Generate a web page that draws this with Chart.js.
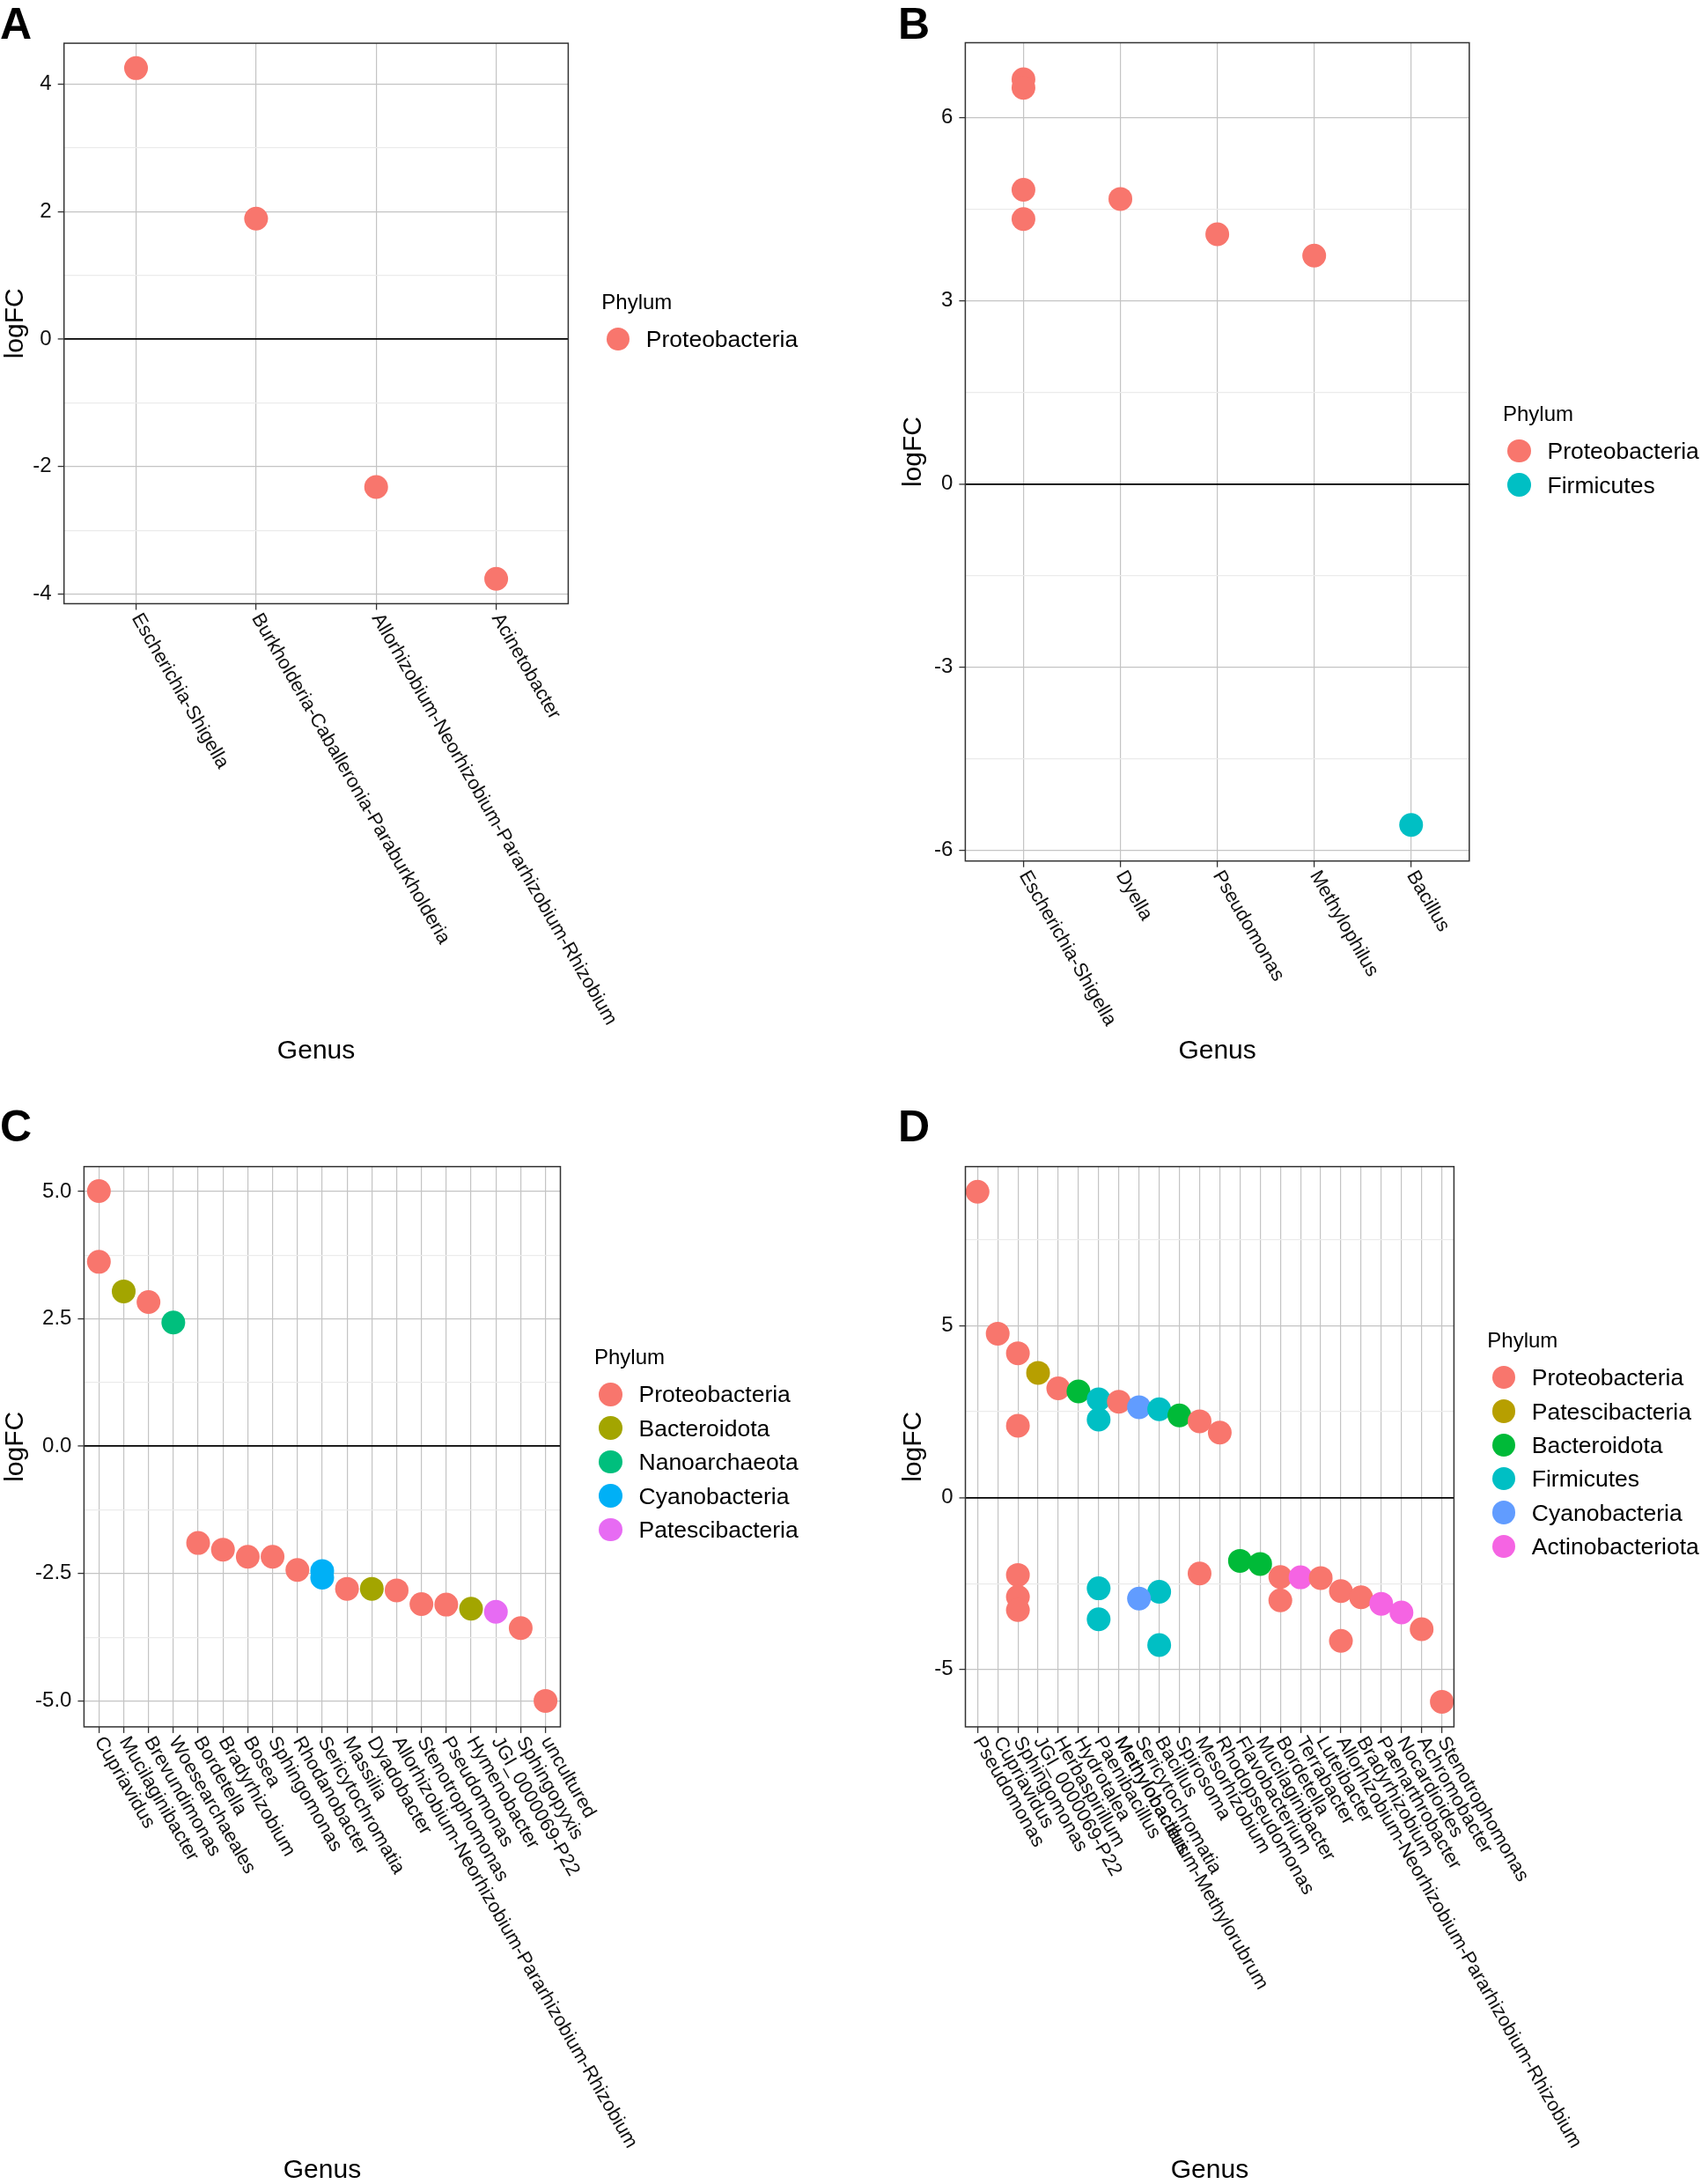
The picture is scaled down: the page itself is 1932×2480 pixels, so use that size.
<!DOCTYPE html>
<html>
<head>
<meta charset="utf-8">
<script src="https://cdn.jsdelivr.net/npm/chart.js@4.4.1/dist/chart.umd.min.js"></script>
<style>
  body { margin: 0; background: #fff; width: 1932px; height: 2480px; position: relative; overflow: hidden;
         font-family: "Liberation Sans", Arial, sans-serif; }
  canvas { position: absolute; }
  .tag { position: absolute; font-weight: bold; font-size: 50px; line-height: 1; color: #000; }
  .lg { position: absolute; line-height: 1; color: #000; white-space: nowrap; }
  .dot { position: absolute; width: 26.6px; height: 26.6px; border-radius: 50%; }
</style>
</head>
<body>
<div class="tag" style="left:0px;top:1.5px">A</div>
<div class="tag" style="left:1020px;top:1.5px">B</div>
<div class="tag" style="left:0px;top:1253.5px">C</div>
<div class="tag" style="left:1020px;top:1253.5px">D</div>

<canvas id="chartA" width="1000" height="1210" style="left:0px;top:0px"></canvas>
<canvas id="chartB" width="912" height="1210" style="left:1020px;top:0px"></canvas>
<canvas id="chartC" width="1000" height="1240" style="left:0px;top:1240px"></canvas>
<canvas id="chartD" width="912" height="1240" style="left:1020px;top:1240px"></canvas>

<script>
// ---- Panel A ----
const genusA = ['Escherichia-Shigella', 'Burkholderia-Caballeronia-Paraburkholderia',
  'Allorhizobium-Neorhizobium-Pararhizobium-Rhizobium', 'Acinetobacter'];
const pointGenusA = ['Escherichia-Shigella', 'Burkholderia-Caballeronia-Paraburkholderia',
  'Allorhizobium-Neorhizobium-Pararhizobium-Rhizobium', 'Acinetobacter'];
const logfcA = [4.25, 1.89, -2.32, -3.76];
const phylumA = ['Proteobacteria', 'Proteobacteria', 'Proteobacteria', 'Proteobacteria'];
const phylaA = ['Proteobacteria'];
const yTicksA = [-4, -2, 0, 2, 4];
const yTickLabelsA = ['-4', '-2', '0', '2', '4'];

// ---- Panel B ----
const genusB = ['Escherichia-Shigella', 'Dyella', 'Pseudomonas', 'Methylophilus', 'Bacillus'];
const pointGenusB = ['Escherichia-Shigella', 'Escherichia-Shigella', 'Escherichia-Shigella',
  'Escherichia-Shigella', 'Dyella', 'Pseudomonas', 'Methylophilus', 'Bacillus'];
const logfcB = [6.63, 6.49, 4.82, 4.34, 4.67, 4.09, 3.74, -5.59];
const phylumB = ['Proteobacteria', 'Proteobacteria', 'Proteobacteria', 'Proteobacteria',
  'Proteobacteria', 'Proteobacteria', 'Proteobacteria', 'Firmicutes'];
const phylaB = ['Proteobacteria', 'Firmicutes'];
const yTicksB = [-6, -3, 0, 3, 6];
const yTickLabelsB = ['-6', '-3', '0', '3', '6'];

// ---- Panel C ----
const genusC = ['Cupriavidus', 'Mucilaginibacter', 'Brevundimonas', 'Woesearchaeales', 'Bordetella',
  'Bradyrhizobium', 'Bosea', 'Sphingomonas', 'Rhodanobacter', 'Sericytochromatia', 'Massilia',
  'Dyadobacter', 'Allorhizobium-Neorhizobium-Pararhizobium-Rhizobium', 'Stenotrophomonas',
  'Pseudomonas', 'Hymenobacter', 'JGI_0000069-P22', 'Sphingopyxis', 'uncultured'];
const pointGenusC = ['Cupriavidus', 'Cupriavidus', 'Mucilaginibacter', 'Brevundimonas', 'Woesearchaeales',
  'Bordetella', 'Bradyrhizobium', 'Bosea', 'Sphingomonas', 'Rhodanobacter', 'Sericytochromatia',
  'Sericytochromatia', 'Massilia', 'Dyadobacter', 'Allorhizobium-Neorhizobium-Pararhizobium-Rhizobium',
  'Stenotrophomonas', 'Pseudomonas', 'Hymenobacter', 'JGI_0000069-P22', 'Sphingopyxis', 'uncultured'];
const logfcC = [5.01, 3.62, 3.04, 2.83, 2.43, -1.90, -2.03, -2.17, -2.17, -2.43, -2.45, -2.58,
  -2.80, -2.80, -2.83, -3.10, -3.11, -3.19, -3.25, -3.57, -5.00];
const phylumC = ['Proteobacteria', 'Proteobacteria', 'Bacteroidota', 'Proteobacteria', 'Nanoarchaeota',
  'Proteobacteria', 'Proteobacteria', 'Proteobacteria', 'Proteobacteria', 'Proteobacteria',
  'Cyanobacteria', 'Cyanobacteria', 'Proteobacteria', 'Bacteroidota', 'Proteobacteria',
  'Proteobacteria', 'Proteobacteria', 'Bacteroidota', 'Patescibacteria', 'Proteobacteria', 'Proteobacteria'];
const phylaC = ['Proteobacteria', 'Bacteroidota', 'Nanoarchaeota', 'Cyanobacteria', 'Patescibacteria'];
const yTicksC = [-5, -2.5, 0, 2.5, 5];
const yTickLabelsC = ['-5.0', '-2.5', '0.0', '2.5', '5.0'];

// ---- Panel D ----
const genusD = ['Pseudomonas', 'Cupriavidus', 'Sphingomonas', 'JGI_0000069-P22', 'Herbaspirillum',
  'Hydrotalea', 'Paenibacillus', 'Methylobacillus', 'Sericytochromatia', 'Bacillus', 'Spirosoma',
  'Mesorhizobium', 'Rhodopseudomonas', 'Flavobacterium', 'Mucilaginibacter', 'Bordetella', 'Terrabacter',
  'Luteibacter', 'Allorhizobium-Neorhizobium-Pararhizobium-Rhizobium', 'Bradyrhizobium',
  'Paenarthrobacter', 'Nocardioides', 'Achromobacter', 'Stenotrophomonas'];
// second label printed over the Methylobacillus tick in the original figure
const overlapGenusD = ['Methylobacillus', 'Methylobacterium-Methylorubrum'];
const pointGenusD = ['Pseudomonas', 'Cupriavidus', 'Sphingomonas', 'JGI_0000069-P22', 'Herbaspirillum',
  'Hydrotalea', 'Paenibacillus', 'Methylobacillus', 'Sericytochromatia', 'Bacillus', 'Spirosoma',
  'Paenibacillus', 'Mesorhizobium', 'Sphingomonas', 'Rhodopseudomonas', 'Flavobacterium',
  'Mucilaginibacter', 'Mesorhizobium', 'Sphingomonas', 'Bordetella', 'Terrabacter', 'Luteibacter',
  'Paenibacillus', 'Allorhizobium-Neorhizobium-Pararhizobium-Rhizobium', 'Bacillus', 'Sphingomonas',
  'Bradyrhizobium', 'Sericytochromatia', 'Bordetella', 'Paenarthrobacter', 'Sphingomonas',
  'Nocardioides', 'Paenibacillus', 'Achromobacter', 'Allorhizobium-Neorhizobium-Pararhizobium-Rhizobium',
  'Bacillus', 'Stenotrophomonas'];
const logfcD = [8.90, 4.77, 4.20, 3.63, 3.18, 3.09, 2.86, 2.79, 2.63, 2.57, 2.39, 2.27, 2.22, 2.09,
  1.89, -1.84, -1.93, -2.21, -2.25, -2.31, -2.32, -2.34, -2.64, -2.72, -2.74, -2.89, -2.90, -2.94,
  -2.99, -3.09, -3.27, -3.34, -3.54, -3.83, -4.17, -4.29, -5.94];
const phylumD = ['Proteobacteria', 'Proteobacteria', 'Proteobacteria', 'Patescibacteria', 'Proteobacteria',
  'Bacteroidota', 'Firmicutes', 'Proteobacteria', 'Cyanobacteria', 'Firmicutes', 'Bacteroidota',
  'Firmicutes', 'Proteobacteria', 'Proteobacteria', 'Proteobacteria', 'Bacteroidota', 'Bacteroidota',
  'Proteobacteria', 'Proteobacteria', 'Proteobacteria', 'Actinobacteriota', 'Proteobacteria',
  'Firmicutes', 'Proteobacteria', 'Firmicutes', 'Proteobacteria', 'Proteobacteria', 'Cyanobacteria',
  'Proteobacteria', 'Actinobacteriota', 'Proteobacteria', 'Actinobacteriota', 'Firmicutes',
  'Proteobacteria', 'Proteobacteria', 'Firmicutes', 'Proteobacteria'];
const phylaD = ['Proteobacteria', 'Patescibacteria', 'Bacteroidota', 'Firmicutes', 'Cyanobacteria', 'Actinobacteriota'];
const yTicksD = [-5, 0, 5];
const yTickLabelsD = ['-5', '0', '5'];

// ggplot hue colours for each panel
const paletteA = ['#F8766D'];
const paletteB = ['#F8766D', '#00BFC4'];
const paletteC = ['#F8766D', '#A3A500', '#00BF7D', '#00B0F6', '#E76BF3'];
const paletteD = ['#F8766D', '#B79F00', '#00BA38', '#00BFC4', '#619CFF', '#F564E3'];

const FONT = '"Liberation Sans", Arial, sans-serif';

// border round the panel, on top of the points like theme_bw
const panelFrame = {
  id: 'panelFrame',
  afterDatasetsDraw(chart) {
    const { ctx, chartArea: a } = chart;
    ctx.save();
    ctx.strokeStyle = '#333333';
    ctx.lineWidth = 1.5;
    ctx.strokeRect(a.left, a.top, a.right - a.left, a.bottom - a.top);
    ctx.restore();
  }
};

// genus names turned 60 degrees clockwise, hanging from the ticks
const genusLabels = {
  id: 'genusLabels',
  afterDraw(chart, args, opts) {
    const { ctx } = chart;
    const x = chart.scales.x;
    ctx.save();
    ctx.font = '22px ' + FONT;
    ctx.fillStyle = '#111';
    ctx.textAlign = 'left';
    ctx.textBaseline = 'middle';
    (opts.items || []).forEach(it => {
      ctx.save();
      ctx.translate(x.getPixelForValue(it.i), x.top + 13);
      ctx.rotate(Math.PI / 3);
      ctx.fillText(it.text, 0, 0);
      ctx.restore();
    });
    ctx.restore();
  }
};

function near(list, v) {
  return list.findIndex(t => Math.abs(t - v) < 1e-6);
}

function drawPanel(p) {
  const points = p.pointGenus.map((g, k) => ({ x: p.genus.indexOf(g), y: p.logfc[k] }));
  const colors = p.phylum.map(ph => p.palette[p.phyla.indexOf(ph)]);
  const items = p.genus.map((g, i) => ({ i: i, text: g }));
  if (p.overlap) items.push({ i: p.genus.indexOf(p.overlap[0]), text: p.overlap[1] });

  new Chart(document.getElementById(p.id), {
    type: 'scatter',
    data: {
      datasets: [{
        data: points,
        pointBackgroundColor: colors,
        pointBorderWidth: 0,
        pointRadius: 13.5,
        pointHoverRadius: 13.5,
        clip: false
      }]
    },
    options: {
      responsive: false,
      animation: false,
      devicePixelRatio: 1,
      events: [],
      layout: { autoPadding: false, padding: p.pad },
      plugins: { legend: { display: false }, tooltip: { enabled: false }, genusLabels: { items: items } },
      scales: {
        x: {
          type: 'linear',
          min: -0.6,
          max: p.genus.length - 0.4,
          ticks: { display: false, stepSize: 1, includeBounds: false, autoSkip: false },
          grid: { color: '#c4c4c4', lineWidth: 1.2, tickColor: '#333', tickLength: 7, tickWidth: 1.3 },
          border: { display: false },
          title: { display: true, text: 'Genus', color: '#000', padding: 0,
                   font: { size: 30, family: FONT, lineHeight: 1 } },
          afterFit: s => { s.height = p.xh; }
        },
        y: {
          type: 'linear',
          min: p.yMin,
          max: p.yMax,
          ticks: {
            stepSize: p.yStep,
            includeBounds: false,
            padding: 7,
            color: '#111',
            font: { size: 24, family: FONT },
            callback: v => {
              const k = near(p.yTicks, v);
              return k < 0 ? '' : p.yTickLabels[k];
            }
          },
          grid: {
            color: c => Math.abs(c.tick.value) < 1e-6 ? '#000' : (near(p.yTicks, c.tick.value) >= 0 ? '#c4c4c4' : '#ebebeb'),
            lineWidth: c => Math.abs(c.tick.value) < 1e-6 ? 1.8 : 1.2,
            tickColor: c => near(p.yTicks, c.tick.value) >= 0 ? '#333' : 'rgba(0,0,0,0)',
            tickLength: 7,
            tickWidth: 1.3
          },
          border: { display: false },
          title: { display: true, text: 'logFC', color: '#000', padding: { top: 3, bottom: 0 },
                   font: { size: 30, family: FONT, lineHeight: 1 } },
          afterFit: s => { s.width = p.yw; }
        }
      }
    },
    plugins: [panelFrame, genusLabels]
  });
}

function drawLegend(left, titleBase, phyla, palette) {
  const title = document.createElement('div');
  title.className = 'lg';
  title.style.cssText = `left:${left}px;top:${titleBase - 20.3}px;font-size:24px`;
  title.textContent = 'Phylum';
  document.body.appendChild(title);
  phyla.forEach((name, k) => {
    const cy = titleBase + 34 + k * 38.4;
    const dot = document.createElement('div');
    dot.className = 'dot';
    dot.style.cssText = `left:${left + 18.5 - 13.3}px;top:${cy - 13.3}px;background:${palette[k]}`;
    document.body.appendChild(dot);
    const lab = document.createElement('div');
    lab.className = 'lg';
    lab.style.cssText = `left:${left + 50.5}px;top:${cy - 12.9}px;font-size:26.5px`;
    lab.textContent = name;
    document.body.appendChild(lab);
  });
}

drawPanel({ id: 'chartA', genus: genusA, pointGenus: pointGenusA, logfc: logfcA, phylum: phylumA,
  phyla: phylaA, palette: paletteA, yTicks: yTicksA, yTickLabels: yTickLabelsA,
  yMin: -4.15, yMax: 4.64, yStep: 1,
  pad: { top: 49.1, right: 354.6, bottom: 1, left: 0 }, yw: 72.7, xh: 523.5 });

drawPanel({ id: 'chartB', genus: genusB, pointGenus: pointGenusB, logfc: logfcB, phylum: phylumB,
  phyla: phylaB, palette: paletteB, yTicks: yTicksB, yTickLabels: yTickLabelsB,
  yMin: -6.18, yMax: 7.23, yStep: 1.5,
  pad: { top: 48.5, right: 263.2, bottom: 1, left: 0 }, yw: 76.4, xh: 231.3 });

drawPanel({ id: 'chartC', genus: genusC, pointGenus: pointGenusC, logfc: logfcC, phylum: phylumC,
  phyla: phylaC, palette: paletteC, yTicks: yTicksC, yTickLabels: yTickLabelsC,
  yMin: -5.51, yMax: 5.49, yStep: 1.25,
  pad: { top: 84.7, right: 363.5, bottom: 0, left: 0 }, yw: 95.4, xh: 519.1 });

drawPanel({ id: 'chartD', genus: genusD, pointGenus: pointGenusD, logfc: logfcD, phylum: phylumD,
  phyla: phylaD, palette: paletteD, yTicks: yTicksD, yTickLabels: yTickLabelsD, overlap: overlapGenusD,
  yMin: -6.67, yMax: 9.63, yStep: 2.5,
  pad: { top: 84.7, right: 280.6, bottom: 0, left: 0 }, yw: 76.5, xh: 519.1 });

drawLegend(683.3, 351, phylaA, paletteA);
drawLegend(1707, 478, phylaB, paletteB);
drawLegend(675, 1549.3, phylaC, paletteC);
drawLegend(1689.3, 1530, phylaD, paletteD);
</script>
</body>
</html>
